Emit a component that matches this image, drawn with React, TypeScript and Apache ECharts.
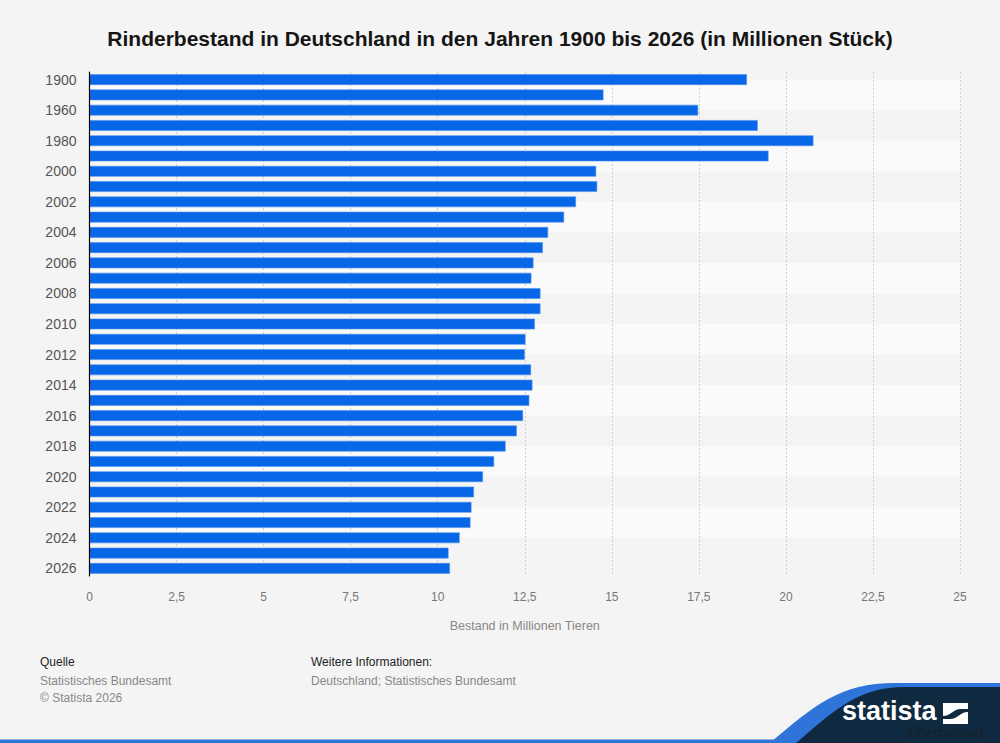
import React, { useEffect, useRef } from "react";
import * as echarts from "echarts";

const categories = [
  "1900", "1950", "1960", "1970", "1980", "1990",
  "2000", "2001", "2002", "2003", "2004", "2005", "2006", "2007", "2008", "2009",
  "2010", "2011", "2012", "2013", "2014", "2015", "2016", "2017", "2018", "2019",
  "2020", "2021", "2022", "2023", "2024", "2025", "2026",
];
const values = [
  18.88, 14.76, 17.48, 19.19, 20.79, 19.5,
  14.55, 14.58, 13.97, 13.63, 13.17, 13.02, 12.75, 12.69, 12.95, 12.95,
  12.79, 12.52, 12.5, 12.68, 12.72, 12.63, 12.45, 12.27, 11.95, 11.62,
  11.3, 11.04, 10.97, 10.94, 10.63, 10.31, 10.35,
];
const title = "Rinderbestand in Deutschland in den Jahren 1900 bis 2026 (in Millionen Stück)";
const axisName = "Bestand in Millionen Tieren";
const sourceLines = ["Statistisches Bundesamt", "© Statista 2026"];
const infoLines = ["Deutschland; Statistisches Bundesamt"];

echarts.graphic.registerShape(
  "swooshBlue",
  echarts.graphic.extendPath("M 770 743 C 815 705 840 683 895 683 L 1000 683 L 1000 743 Z", {})
);
echarts.graphic.registerShape(
  "swooshNavy",
  echarts.graphic.extendPath("M 796 743 C 838 707 860 687 905 687 L 1000 687 L 1000 743 Z", {})
);
echarts.graphic.registerShape(
  "logoWave",
  echarts.graphic.extendPath("M 0 13 C 8 13 10 6 18 6 L 25 6 L 25 9 C 17 9 15 16 7 16 L 0 16 Z", {})
);

export default function App() {
  const ref = useRef<HTMLDivElement>(null);
  useEffect(() => {
    if (!ref.current) return;
    const chart = echarts.init(ref.current, null, { renderer: "svg" });
    const bands: any[] = [];
    for (let k = 0; k + 2 < categories.length; k += 4) {
      bands.push([{ yAxis: categories[k] }, { yAxis: categories[k + 2] }]);
    }
    const font = "'Liberation Sans', Arial, sans-serif";
    chart.setOption({
      animation: false,
      backgroundColor: "#f4f4f4",
      textStyle: { fontFamily: font },
      title: {
        text: title,
        left: "center",
        top: 23,
        textStyle: { fontSize: 21, fontWeight: "bold", color: "#151515", fontFamily: font },
      },
      grid: { left: 89.5, right: 40, top: 72, bottom: 167, containLabel: false },
      xAxis: {
        type: "value",
        min: 0,
        max: 25,
        interval: 2.5,
        z: 2,
        name: axisName,
        nameLocation: "middle",
        nameGap: 43,
        nameTextStyle: { color: "#888", fontSize: 12.5 },
        axisLine: { show: false },
        axisTick: { show: false },
        axisLabel: {
          color: "#777",
          fontSize: 12,
          margin: 15,
          formatter: (v: number) => String(v).replace(".", ","),
        },
        splitLine: { show: true, lineStyle: { color: "#cfcfcf", type: [2, 2], width: 1 } },
      },
      yAxis: {
        type: "category",
        data: categories,
        inverse: true,
        z: 4,
        axisLine: { show: true, lineStyle: { color: "#000", width: 1.2 } },
        axisTick: { show: false },
        axisLabel: { interval: 1, fontSize: 14, color: "#555", margin: 13 },
        splitLine: { show: false },
      },
      series: [
        {
          type: "line",
          data: [],
          silent: true,
          markArea: {
            silent: true,
            z: 1,
            itemStyle: { color: "#fafafa", opacity: 1 },
            label: { show: false },
            data: bands,
          },
        },
        {
          type: "bar",
          data: values,
          z: 3,
          barCategoryGap: "30%",
          itemStyle: { color: "#0767e7", borderColor: "#4a8ef0", borderWidth: 0.6 },
          silent: true,
        },
      ],
      graphic: [
        { type: "text", left: 40, top: 656, style: { text: "Quelle", fontSize: 12, fill: "#222", fontFamily: font } },
        {
          type: "text",
          left: 40,
          top: 672,
          style: { text: sourceLines.join("\n"), fontSize: 12, lineHeight: 17, fill: "#888", fontFamily: font },
        },
        { type: "text", left: 311, top: 656, style: { text: "Weitere Informationen:", fontSize: 12, fill: "#222", fontFamily: font } },
        {
          type: "text",
          left: 311,
          top: 672,
          style: { text: infoLines.join("\n"), fontSize: 12, lineHeight: 17, fill: "#888", fontFamily: font },
        },
        { type: "rect", left: 0, top: 739.5, shape: { width: 1000, height: 4 }, style: { fill: "#2f74d8" } },
        { type: "swooshBlue", x: 0, y: 0, style: { fill: "#2f74d8" } },
        { type: "swooshNavy", x: 0, y: 0, style: { fill: "#0f2a40" } },
        {
          type: "text",
          left: 842,
          top: 697,
          style: { text: "statista", fontSize: 27, fontWeight: "bold", fill: "#fff", fontFamily: font },
        },
        { type: "rect", x: 943, y: 703, shape: { width: 25, height: 21 }, style: { fill: "#fff" } },
        { type: "logoWave", x: 943, y: 703, style: { fill: "#0f2a40" } },
        {
          type: "text",
          left: 908,
          top: 727,
          style: {
            text: "Überholspur",
            fontSize: 12,
            fontStyle: "italic",
            fill: "#1a1a1a",
            fontFamily: "'DejaVu Serif', serif",
            opacity: 0.85,
          },
        },
      ],
    });
    return () => chart.dispose();
  }, []);
  return (
    <div
      ref={ref}
      style={{ position: "fixed", left: 0, top: 0, width: 1000, height: 743 }}
    />
  );
}
